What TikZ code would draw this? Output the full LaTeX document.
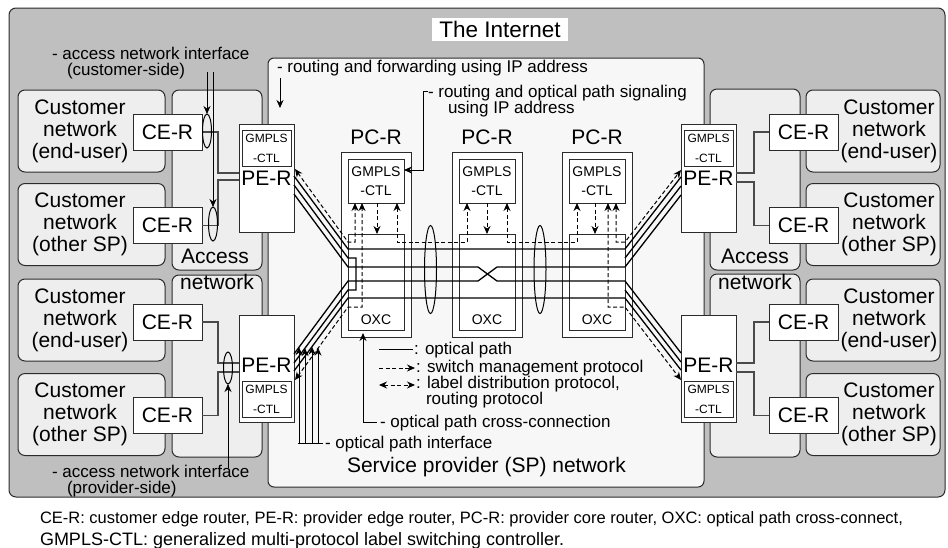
\documentclass[tikz,border=0pt]{standalone}
\usepackage{fontspec}
\setmainfont{Liberation Sans}
\usetikzlibrary{arrows.meta,shapes.geometric}
\definecolor{netgray}{HTML}{BFBFBF}
\definecolor{boxgray}{HTML}{EEEEEE}
\definecolor{spfill}{HTML}{F7F7F7}
\definecolor{edge}{HTML}{2B2B2B}
\definecolor{wire}{HTML}{4A4A4A}
\newcommand\fbig{\fontsize{21}{22}\selectfont}
\newcommand\ftitle{\fontsize{22.5}{24}\selectfont}
\newcommand\fnote{\fontsize{17}{16}\selectfont}
\newcommand\fgm{\fontsize{14}{19}\selectfont}
\newcommand\fgs{\fontsize{12}{20}\selectfont}
\newcommand\foxc{\fontsize{14}{16}\selectfont}
\newcommand\fcapa{\fontsize{16.5}{22}\selectfont}
\newcommand\fcapb{\fontsize{18}{22}\selectfont}
\begin{document}
\begin{tikzpicture}[x=1pt,y=-1pt,
  every node/.style={inner sep=0pt,outer sep=0pt},
  region/.style={draw=edge,line width=1pt,rounded corners=7pt},
  netbox/.style={region,fill=boxgray},
  rbox/.style={draw=edge,line width=1pt,fill=white},
  wirel/.style={draw=wire,line width=1.1pt},
  opt/.style={line width=1.3pt,black},
  ctl/.style={line width=1pt,dash pattern=on 4pt off 2.5pt},
  tip/.style={-{Stealth[length=8pt,width=7pt]}},
  tips/.style={{Stealth[length=8pt,width=7pt]}-{Stealth[length=8pt,width=7pt]}},
  bundle/.style={ellipse,draw=black,line width=1pt},
  txt/.style={anchor=base west,font=\fnote},
  big/.style={font=\fbig},
]
\useasboundingbox (0,0) rectangle (948,547);

% the Internet
\node[region,fill=netgray,minimum width=936,minimum height=489] (inet) at (477,252.5) {};
\node[fill=white,minimum width=136,minimum height=23,font=\ftitle] (inettl) at (500,29) {The Internet};

% customer networks, left
\node[netbox,minimum width=147,minimum height=82] (cl1) at (91.5,131) {};
\node[netbox,minimum width=147,minimum height=82] (cl2) at (91.5,224.5) {};
\node[netbox,minimum width=147,minimum height=82] (cl3) at (91.5,320) {};
\node[netbox,minimum width=147,minimum height=82] (cl4) at (91.5,414.5) {};
\node[big,align=center] (cl1t) at (80,131) {Customer\\network\\(end-user)};
\node[big,align=center] (cl2t) at (80,224.5) {Customer\\network\\(other SP)};
\node[big,align=center] (cl3t) at (80,320) {Customer\\network\\(end-user)};
\node[big,align=center] (cl4t) at (80,414.5) {Customer\\network\\(other SP)};

% customer networks, right
\node[netbox,minimum width=134,minimum height=82] (cr1) at (873,131) {};
\node[netbox,minimum width=134,minimum height=82] (cr2) at (873,224.5) {};
\node[netbox,minimum width=134,minimum height=82] (cr3) at (873,320) {};
\node[netbox,minimum width=134,minimum height=82] (cr4) at (873,414.5) {};
\node[big,align=center] (cr1t) at (889,131) {Customer\\network\\(end-user)};
\node[big,align=center] (cr2t) at (889,224.5) {Customer\\network\\(other SP)};
\node[big,align=center] (cr3t) at (889,320) {Customer\\network\\(end-user)};
\node[big,align=center] (cr4t) at (889,414.5) {Customer\\network\\(other SP)};

% access networks
\node[netbox,minimum width=90,minimum height=180] (al1) at (217,180) {};
\node[netbox,minimum width=90,minimum height=182] (al2) at (217,366) {};
\node[netbox,minimum width=90,minimum height=181] (ar1) at (755,179.5) {};
\node[netbox,minimum width=90,minimum height=183] (ar2) at (755,365.5) {};
\node[big,anchor=base] (al1t) at (215,263) {Access};
\node[big,anchor=base] (al2t) at (217,289) {network};
\node[big,anchor=base] (ar1t) at (755,263) {Access};
\node[big,anchor=base] (ar2t) at (755,289) {network};

% service provider network
\node[region,rounded corners=6pt,fill=spfill,minimum width=436,minimum height=429] (sp) at (486,272.5) {};
\node[big,anchor=base west] (spt) at (347,472) {Service provider (SP) network};

% customer edge routers
\node[rbox,minimum width=69,minimum height=36,big] (cel1) at (167.5,132) {CE-R};
\node[rbox,minimum width=69,minimum height=36,big] (cel2) at (167.5,225.5) {CE-R};
\node[rbox,minimum width=69,minimum height=36,big] (cel3) at (167.5,322) {CE-R};
\node[rbox,minimum width=69,minimum height=36,big] (cel4) at (167.5,415.5) {CE-R};
\node[rbox,minimum width=69,minimum height=36,big] (cer1) at (803.5,132) {CE-R};
\node[rbox,minimum width=69,minimum height=36,big] (cer2) at (803.5,225.5) {CE-R};
\node[rbox,minimum width=69,minimum height=36,big] (cer3) at (803.5,322) {CE-R};
\node[rbox,minimum width=69,minimum height=36,big] (cer4) at (803.5,415.5) {CE-R};

% provider edge routers
\node[rbox,minimum width=55,minimum height=108] (pel1) at (266.5,178) {};
\node[rbox,minimum width=55,minimum height=107] (pel2) at (266.5,368.5) {};
\node[rbox,minimum width=55,minimum height=108] (per1) at (708.5,178) {};
\node[rbox,minimum width=55,minimum height=107] (per2) at (708.5,368.5) {};
\node[rbox,minimum width=49,minimum height=36,font=\fgs,align=center] (gel1) at (266.5,148) {GMPLS\\-CTL};
\node[rbox,minimum width=49,minimum height=36,font=\fgs,align=center] (gel2) at (266.5,399) {GMPLS\\-CTL};
\node[rbox,minimum width=49,minimum height=36,font=\fgs,align=center] (ger1) at (708.5,148) {GMPLS\\-CTL};
\node[rbox,minimum width=49,minimum height=36,font=\fgs,align=center] (ger2) at (708.5,399) {GMPLS\\-CTL};
\node[big,anchor=base] (pel1t) at (266.5,185) {PE-R};
\node[big,anchor=base] (pel2t) at (266.5,372) {PE-R};
\node[big,anchor=base] (per1t) at (708.5,185) {PE-R};
\node[big,anchor=base] (per2t) at (708.5,372) {PE-R};

% provider core routers
\foreach \n/\x in {1/376,2/487,3/597}{
  \node[rbox,minimum width=70,minimum height=185] (pc\n) at (\x,244.5) {};
  \node[rbox,minimum width=56,minimum height=44,font=\fgm,align=center] (pg\n) at (\x,181) {GMPLS\\-CTL};
  \node[rbox,minimum width=56,minimum height=96] (ox\n) at (\x,282) {};
  \node[font=\foxc,anchor=base] (ox\n t) at (\x,324) {OXC};
  \node[big,anchor=base] (pc\n t) at (\x,144) {PC-R};
}

% access links between CE-R and PE-R
\draw[wirel] (cel1.east) -| (218,173) -- (pel1.west |- 218,173);
\draw[wirel] (cel2.east) -| (218,180) -- (pel1.west |- 218,180);
\draw[wirel] (cel3.east) -| (218,363) -- (pel2.west |- 218,363);
\draw[wirel] (cel4.east) -| (218,372) -- (pel2.west |- 218,372);
\draw[wirel] (cer1.west) -| (754,173) -- (per1.east |- 754,173);
\draw[wirel] (cer2.west) -| (754,182) -- (per1.east |- 754,182);
\draw[wirel] (cer3.west) -| (754,363) -- (per2.east |- 754,363);
\draw[wirel] (cer4.west) -| (754,372) -- (per2.east |- 754,372);

% optical paths
\draw[opt] (294,176) -- (348,249) -- (625,249) -- (681,177);
\draw[opt] (294,194) -- (348,267) -- (478,267) -- (497,281) -- (625,281) -- (681,353);
\draw[opt] (294,354) -- (348,281) -- (478,281) -- (497,267) -- (625,267) -- (681,195);
\draw[opt] (294,371) -- (348,298) -- (625,298) -- (681,370);
\draw[opt] (294,185) -- (348,258) -- (356,258) -- (356,290) -- (348,290) -- (294,363);
\draw[opt] (625,258) -- (681,186);
\draw[opt] (625,290) -- (681,362);

% control plane: label distribution and switch management
\draw[ctl,tips] (295,169) -- (348,242) -- (355,242) -- (355,203);
\draw[ctl,tips] (295,380) -- (348,307) -- (362,307) -- (362,203);
\draw[ctl,tips] (397,203) -- (397,242) -- (467,242) -- (467,203);
\draw[ctl,tips] (507,203) -- (507,242) -- (577,242) -- (577,203);
\draw[ctl,tips] (616,203) -- (616,242) -- (625,242) -- (681,170);
\draw[ctl,tips] (608,203) -- (608,307) -- (625,307) -- (681,380);
\draw[ctl,tip] (377,203) -- (377,234);
\draw[ctl,tip] (487,203) -- (487,234);
\draw[ctl,tip] (595,203) -- (595,234);

% fibre bundles
\node[bundle,minimum width=9,minimum height=34] (bA) at (207,131) {};
\node[bundle,minimum width=9,minimum height=34] (bB) at (213,224) {};
\node[bundle,minimum width=9,minimum height=32] (bC) at (228,368) {};
\node[bundle,minimum width=12,minimum height=88] (bD) at (430.5,269.5) {};
\node[bundle,minimum width=12,minimum height=88] (bE) at (540,269.5) {};

% annotations
\node[txt] (ancs) at (52,59) {- access network interface};
\node[txt] (ancs2) at (67,75) {(customer-side)};
\draw[line width=1pt,tip] (207,72) -- (bA.north);
\draw[line width=1pt,tip] (213,72) -- (bB.north);
\node[txt] (anps) at (52,477) {- access network interface};
\node[txt] (anps2) at (67,493) {(provider-side)};
\draw[line width=1pt,tip] (228,468) -- (bC.south);
\node[txt] (rfw) at (277,72) {- routing and forwarding using IP address};
\draw[line width=1pt,tip] (280,78) -- (280,108);
\node[txt] (sig) at (428,97) {- routing and optical path signaling};
\node[txt] (sig2) at (448,113) {using IP address};
\draw[line width=1pt,tip] (428,91) -| (423,170) -- (pg1.east |- 423,170);

% legend
\draw[line width=1pt] (379,349) -- (413,349);
\node[txt] (lg1) at (414,354) {: optical path};
\draw[ctl,tip] (379,368) -- (415,368);
\node[txt] (lg2) at (416,372) {: switch management protocol};
\draw[ctl,tips] (379,385) -- (415,385);
\node[txt] (lg3) at (416,388) {: label distribution protocol,};
\node[txt] (lg4) at (426,404) {routing protocol};
\node[txt] (xc) at (380,427) {- optical path cross-connection};
\draw[line width=1pt,tip] (377,422) -| (363,333);
\node[txt] (opi) at (325,448) {- optical path interface};
\draw[line width=1pt] (298,443) -- (323,443);
\foreach \x/\y in {299/347.2,305/348.1,312/346.7,318/347.6}
  \draw[line width=1pt,tip] (\x,443) -- (\x,\y);

% caption
\node[anchor=base west,font=\fcapa] (cap1) at (40,523) {CE-R: customer edge router, PE-R: provider edge router, PC-R: provider core router, OXC: optical path cross-connect,};
\node[anchor=base west,font=\fcapb] (cap2) at (40,545) {GMPLS-CTL: generalized multi-protocol label switching controller.};
\end{tikzpicture}
\end{document}
